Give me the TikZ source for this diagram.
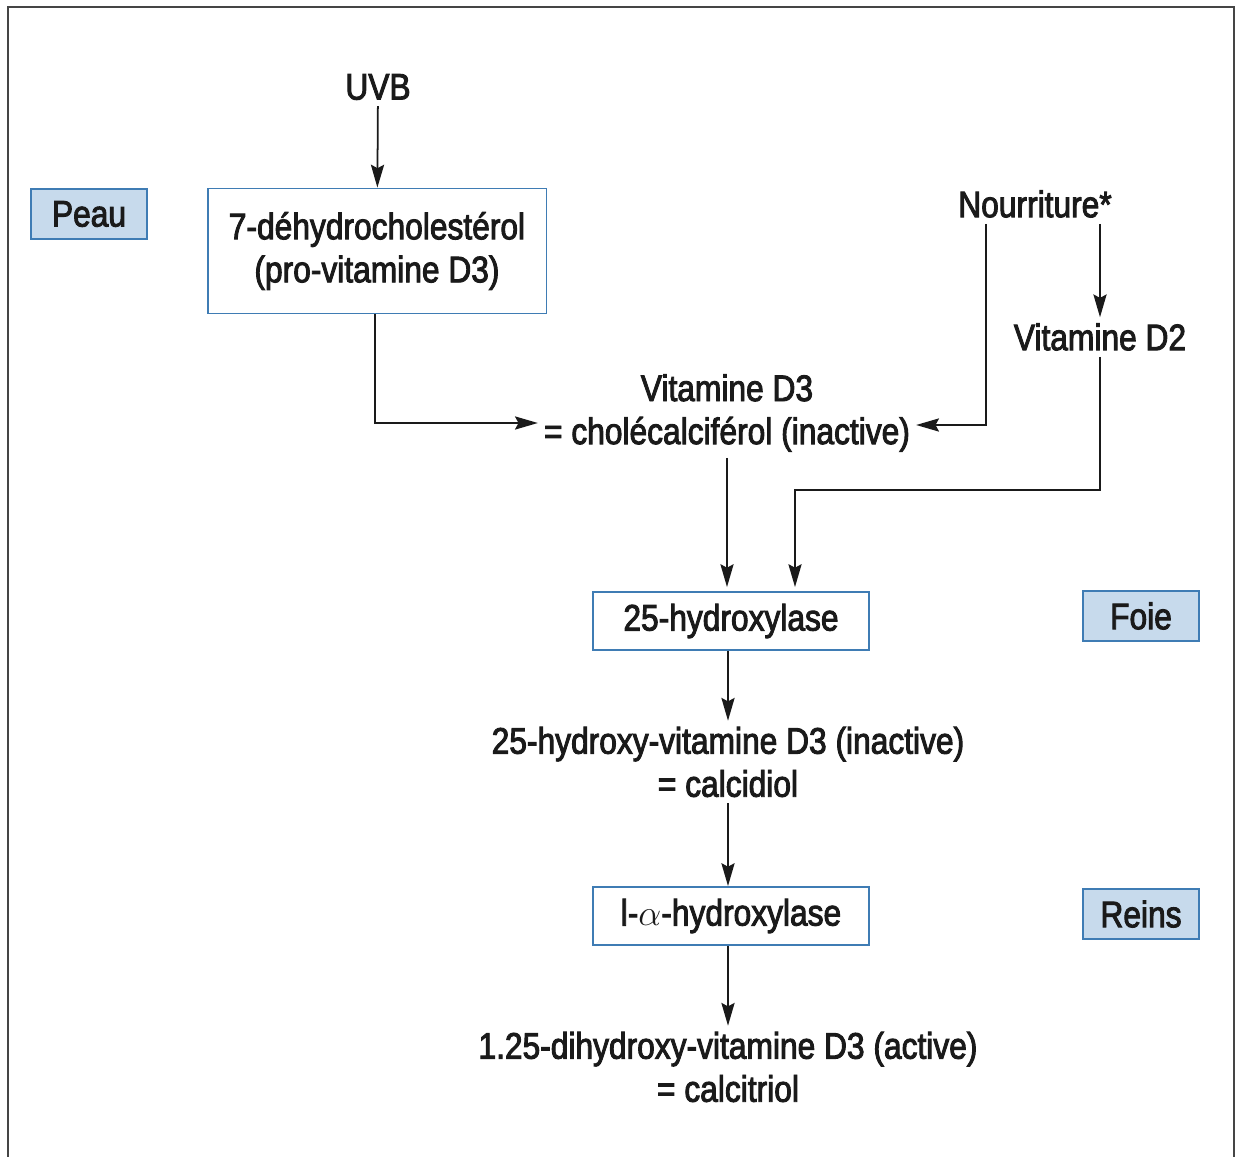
\documentclass[tikz,border=0pt]{standalone}
\usepackage{fontspec}
\setmainfont[FakeStretch=0.86, FakeBold=2.5]{Liberation Sans}
\usetikzlibrary{positioning,arrows.meta}

\definecolor{boxblue}{HTML}{3F7CB4}
\definecolor{labelfill}{HTML}{C7DAEC}
\definecolor{framegray}{HTML}{454545}
\definecolor{textblack}{HTML}{1A1A1A}

\tikzset{
    txt/.style={align=center, text=textblack, font=\fontsize{21}{24.5}\selectfont},
    stepbox/.style={txt, draw=boxblue, line width=1.1pt, fill=white},
    organ/.style={txt, draw=boxblue, line width=1.1pt, fill=labelfill, minimum width=2.32cm, minimum height=1cm},
    arr/.style={line width=1pt, textblack, -{Stealth[length=13pt,width=7.5pt,inset=2pt]}}
}

\begin{document}
\begin{tikzpicture}[x=0.02cm, y=-0.02cm]
        \useasboundingbox (0,0) rectangle (1237,1156);
        % Frame
        \draw[framegray, line width=1.1pt] (8,1160) -- (8,7) -- (1234,7) -- (1234,1160);

        % Nodes
        \node (uvb) at (378,87) [txt] {UVB};
        \node (dehydro) at (377,251) [stepbox, minimum width=6.78cm, minimum height=2.5cm] {7-déhydrocholestérol\\(pro-vitamine D3)};
        \node (peau) at (89,214) [organ] {Peau};
        \node (nourr) at (1035,204) [txt] {Nourriture*};
        \node (vitD2) at (1100,337) [txt] {Vitamine D2};
        \node (vitD3) at (727,413) [txt] {Vitamine D3\\= cholécalciférol (inactive)};
        \node (hyd25) at (731,621) [stepbox, minimum width=5.52cm, minimum height=1.16cm] {25-hydroxylase};
        \node (foie) at (1141,616) [organ] {Foie};
        \node (calcidiol) at (728,762) [txt] {25-hydroxy-vitamine D3 (inactive)\\= calcidiol};
        \node (hyd1a) at (731,916) [stepbox, minimum width=5.52cm, minimum height=1.16cm] {l-$\alpha$-hydroxylase};
        \node (reins) at (1141,914) [organ] {Reins};
        \node (calcitriol) at (728,1067) [txt] {1.25-dihydroxy-vitamine D3 (active)\\= calcitriol};
        \coordinate (bend) at (795,490);

        % Edges
        \draw[arr] (dehydro.south -| 375,0) |- ([yshift=-0.2cm]vitD3.west);
        \draw[arr] ([xshift=-0.98cm]nourr.south) |- ([yshift=-0.24cm]vitD3.east);
        \draw[arr] (uvb) -- (dehydro);
        \draw[arr] (vitD2.north |- nourr.south) -- (vitD2.north);
        \draw[arr] (vitD2.south) |- (bend) -- ([yshift=0.08cm]bend |- hyd25.north);
        \draw[arr] (vitD3.south) -- ([yshift=0.08cm]vitD3.south |- hyd25.north);
        \draw[arr] (hyd25.south -| calcidiol) -- (calcidiol.north);
        \draw[arr] (calcidiol.south) -- (calcidiol.south |- hyd1a.north);
        \draw[arr] (hyd1a.south -| calcitriol) -- (calcitriol.north);
    \end{tikzpicture}
\end{document}
